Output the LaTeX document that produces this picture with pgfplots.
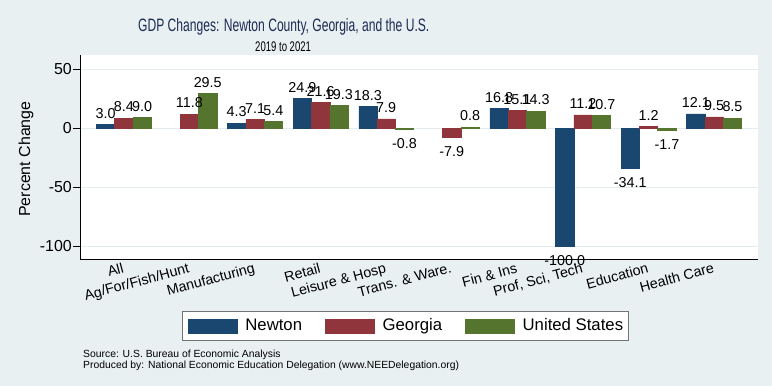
\documentclass[border=0pt]{standalone}
\usepackage{pgfplots}
\pgfplotsset{compat=1.18}
\usepackage{graphicx}
\usepackage{fontspec}
\setmainfont{Liberation Sans}
\definecolor{bgcol}{HTML}{E9F0F2}
\definecolor{gridcol}{HTML}{E4ECEF}
\definecolor{snavy}{RGB}{26,71,111}
\definecolor{smaroon}{RGB}{144,53,59}
\definecolor{sgreen}{RGB}{85,117,47}
\definecolor{titlecol}{HTML}{1B2A52}
\begin{document}
\begin{tikzpicture}
\fill[bgcol] (0,0) rectangle (772bp,386bp);
\node[anchor=base west, inner sep=0pt, text=titlecol] at (138bp,354.3bp) {\scalebox{0.674}[1]{\fontsize{18}{20}\selectfont GDP Changes: Newton County, Georgia, and the U.S.}};
\node[anchor=base west, inner sep=0pt] at (255bp,334.3bp) {\scalebox{0.685}[1]{\fontsize{14}{16}\selectfont 2019 to 2021}};
\node[anchor=base west, inner sep=0pt] at (83bp,28.7bp) {\fontsize{10.4}{12}\selectfont Source: U.S. Bureau of Economic Analysis};
\node[anchor=base west, inner sep=0pt] at (83bp,18bp) {\fontsize{10.4}{12}\selectfont Produced by: National Economic Education Delegation (www.NEEDelegation.org)};
\begin{axis}[
  at={(80bp,127bp)}, anchor=south west,
  scale only axis, width=678bp, height=204bp,
  axis background/.style={fill=white},
  xmin=-0.668, xmax=9.668, ymin=-111, ymax=62,
  axis x line*=bottom, axis y line*=left,
  axis line style={black, line width=0.8bp, -},
  ybar=0pt, bar width=18.3bp,
  xtick={0,...,9},
  xticklabels={All,Ag/For/Fish/Hunt,Manufacturing,Retail,Leisure \& Hosp,Trans. \& Ware.,Fin \& Ins,{Prof, Sci, Tech},Education,Health Care},
  xtick style={draw=none},
  xticklabel style={rotate=15, anchor=north east, inner sep=1bp, yshift=5bp, font=\fontsize{14.3}{16}\selectfont},
  ytick={-100,-50,0,50},
  yticklabels={-100,-50,0,50},
  ytick style={black, line width=0.8bp},
  tick align=outside, major tick length=7bp,
  yticklabel style={font=\fontsize{16}{18}\selectfont, inner xsep=1bp},
  ymajorgrids, grid style={gridcol, line width=1bp},
  ylabel={Percent Change},
  ylabel style={at={(axis description cs:-0.0796,0.49)}, anchor=center, font=\fontsize{16}{18}\selectfont},
  nodes near coords={\pgfmathprintnumber[fixed,zerofill,precision=1,assume math mode=true]{\pgfplotspointmeta}},
  every node near coord/.append style={font=\fontsize{14.4}{16}\selectfont, inner sep=3bp, text height=16bp, text depth=3bp, black},
  legend columns=3,
  legend image code/.code={\fill[#1] (0bp,-7bp) rectangle (49bp,7bp);},
  legend style={at={(0.4801,-0.3284)}, anchor=center, draw=black!55, fill=white, line width=0.8bp,
    font=\fontsize{16.8}{18}\selectfont, inner xsep=5bp, inner ysep=7bp,
    /tikz/every even column/.append style={column sep=23bp},
    /tikz/every odd column/.append style={column sep=8bp},
    nodes={inner sep=0pt, text height=12bp, text depth=3.5bp}},
]
\addplot[fill=snavy, draw=snavy, line width=0.5bp] coordinates {(0,3.0) (2,4.3) (3,24.9) (4,18.3) (6,16.8) (7,-100.0) (8,-34.1) (9,12.1)};
\addplot[fill=smaroon, draw=smaroon, line width=0.5bp] coordinates {(0,8.4) (1,11.8) (2,7.1) (3,21.6) (4,7.9) (5,-7.9) (6,15.1) (7,11.2) (8,1.2) (9,9.5)};
\addplot[fill=sgreen, draw=sgreen, line width=0.5bp] coordinates {(0,9.0) (1,29.5) (2,5.4) (3,19.3) (4,-0.8) (5,0.8) (6,14.3) (7,10.7) (8,-1.7) (9,8.5)};
\legend{Newton,Georgia,United States}
\end{axis}
\end{tikzpicture}
\end{document}
